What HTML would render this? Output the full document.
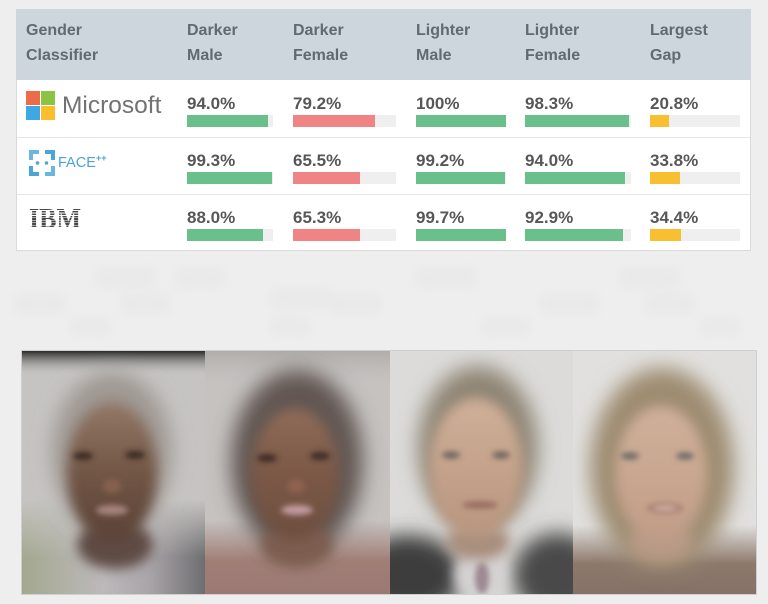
<!DOCTYPE html>
<html><head><meta charset="utf-8">
<style>
*{margin:0;padding:0;box-sizing:border-box}
html,body{width:768px;height:604px;overflow:hidden;background:#eeeeee;font-family:"Liberation Sans",Arial,sans-serif;position:relative}
.abs{position:absolute}
#table{left:16px;top:9px;width:735px;height:242px;background:#fff;border:1px solid #dadada}
#hdr{left:16px;top:9px;width:735px;height:71px;background:#cdd6dc}
.h{position:absolute;font-weight:700;font-size:16px;line-height:24.5px;color:#606a72;top:19px;white-space:nowrap}
.v{position:absolute;font-weight:700;font-size:17px;line-height:20px;color:#575757;white-space:nowrap}
.t{position:absolute;height:12px;background:#efefef}
.f{height:12px}
.g{background:#6ac08b}.r{background:#f08383}.y{background:#f8c030}
.sep{position:absolute;left:17px;width:733px;height:1px;background:#e6e6e6}
</style></head><body>

<div id="table" class="abs"></div>
<div id="hdr" class="abs"></div>
<div class="sep" style="top:137px"></div>
<div class="sep" style="top:194px"></div>

<div class="h" style="left:26px">Gender<br>Classifier</div>
<div class="h" style="left:187px">Darker<br>Male</div>
<div class="h" style="left:293px">Darker<br>Female</div>
<div class="h" style="left:416px">Lighter<br>Male</div>
<div class="h" style="left:525px">Lighter<br>Female</div>
<div class="h" style="left:650px">Largest<br>Gap</div>

<!-- Microsoft logo -->
<div class="abs" style="left:26px;top:91px;width:14px;height:14px;background:#ea6c4b"></div>
<div class="abs" style="left:41px;top:91px;width:14px;height:14px;background:#8bc343"></div>
<div class="abs" style="left:26px;top:106px;width:14px;height:14px;background:#3ea8e6"></div>
<div class="abs" style="left:41px;top:106px;width:14px;height:14px;background:#fbbf2e"></div>
<div class="abs" style="left:62px;top:94px;font-size:24.5px;line-height:24px;color:#727272;white-space:nowrap">Microsoft</div>

<!-- Face++ logo -->
<svg class="abs" style="left:29px;top:150px" width="26" height="26" viewBox="0 0 26 26">
<rect x="0" y="0" width="10" height="10" fill="#6ab6de"/>
<rect x="16" y="0" width="10" height="10" fill="#4aa6d6"/>
<rect x="0" y="16" width="10" height="10" fill="#4aa6d6"/>
<rect x="16" y="16" width="10" height="10" fill="#6ab6de"/>
<rect x="4" y="4" width="18" height="18" fill="#fff"/>
<circle cx="8.5" cy="13" r="1.8" fill="#4aa6d6"/>
<circle cx="17.5" cy="13" r="1.8" fill="#4aa6d6"/>
</svg>
<div class="abs" style="left:58px;top:155.5px;font-size:14.5px;line-height:15px;color:#4aa3d4;white-space:nowrap">FACE</div>
<div class="abs" style="left:96px;top:154px;font-size:9px;line-height:9px;color:#4aa3d4;font-weight:bold">++</div>

<!-- IBM logo -->
<div class="abs" style="left:29px;top:206px;font-family:'Liberation Serif',serif;font-weight:bold;font-size:28px;line-height:28px;transform:scaleX(0.93);transform-origin:left top;color:transparent;background:repeating-linear-gradient(to bottom,#484848 0,#484848 1.6px,#ffffff 1.6px,#ffffff 2.45px);-webkit-background-clip:text;background-clip:text;white-space:nowrap">IBM</div>

<!-- Row 1 -->
<div class="v" style="left:187px;top:94px">94.0%</div>
<div class="v" style="left:293px;top:94px">79.2%</div>
<div class="v" style="left:416px;top:94px">100%</div>
<div class="v" style="left:525px;top:94px">98.3%</div>
<div class="v" style="left:650px;top:94px">20.8%</div>
<div class="t" style="left:187px;top:115px;width:86px"><div class="f g" style="width:94%"></div></div>
<div class="t" style="left:293px;top:115px;width:103px"><div class="f r" style="width:79.2%"></div></div>
<div class="t" style="left:416px;top:115px;width:90px"><div class="f g" style="width:100%"></div></div>
<div class="t" style="left:525px;top:115px;width:106px"><div class="f g" style="width:98.3%"></div></div>
<div class="t" style="left:650px;top:115px;width:90px"><div class="f y" style="width:20.8%"></div></div>

<!-- Row 2 -->
<div class="v" style="left:187px;top:151px">99.3%</div>
<div class="v" style="left:293px;top:151px">65.5%</div>
<div class="v" style="left:416px;top:151px">99.2%</div>
<div class="v" style="left:525px;top:151px">94.0%</div>
<div class="v" style="left:650px;top:151px">33.8%</div>
<div class="t" style="left:187px;top:172px;width:86px"><div class="f g" style="width:99.3%"></div></div>
<div class="t" style="left:293px;top:172px;width:103px"><div class="f r" style="width:65.5%"></div></div>
<div class="t" style="left:416px;top:172px;width:90px"><div class="f g" style="width:99.2%"></div></div>
<div class="t" style="left:525px;top:172px;width:106px"><div class="f g" style="width:94%"></div></div>
<div class="t" style="left:650px;top:172px;width:90px"><div class="f y" style="width:33.8%"></div></div>

<!-- Row 3 -->
<div class="v" style="left:187px;top:208px">88.0%</div>
<div class="v" style="left:293px;top:208px">65.3%</div>
<div class="v" style="left:416px;top:208px">99.7%</div>
<div class="v" style="left:525px;top:208px">92.9%</div>
<div class="v" style="left:650px;top:208px">34.4%</div>
<div class="t" style="left:187px;top:229px;width:86px"><div class="f g" style="width:88%"></div></div>
<div class="t" style="left:293px;top:229px;width:103px"><div class="f r" style="width:65.3%"></div></div>
<div class="t" style="left:416px;top:229px;width:90px"><div class="f g" style="width:99.7%"></div></div>
<div class="t" style="left:525px;top:229px;width:106px"><div class="f g" style="width:92.9%"></div></div>
<div class="t" style="left:650px;top:229px;width:90px"><div class="f y" style="width:34.4%"></div></div>

<!-- faint background blocks -->
<svg class="abs" style="left:0;top:256px" width="768" height="92" viewBox="0 0 768 92">
<defs><filter id="bb" x="-30%" y="-60%" width="160%" height="220%"><feGaussianBlur stdDeviation="5"/></filter></defs>
<g filter="url(#bb)" fill="#e9e9e9">
<rect x="95" y="12" width="60" height="20"/><rect x="175" y="12" width="50" height="20"/>
<rect x="270" y="32" width="60" height="20"/><rect x="415" y="12" width="60" height="20"/>
<rect x="15" y="38" width="50" height="20"/><rect x="120" y="38" width="50" height="20"/>
<rect x="330" y="38" width="50" height="20"/><rect x="540" y="38" width="60" height="20"/>
<rect x="645" y="38" width="50" height="20"/><rect x="620" y="12" width="60" height="20"/>
<rect x="70" y="62" width="40" height="18"/><rect x="270" y="62" width="40" height="18"/>
<rect x="480" y="62" width="50" height="18"/><rect x="700" y="62" width="40" height="18"/>
</g>
</svg>

<!-- Photos -->
<svg class="abs" style="left:21px;top:350px" width="736" height="245" viewBox="0 0 736 245">
<defs>
<filter id="b10" x="-50%" y="-50%" width="200%" height="200%"><feGaussianBlur stdDeviation="10"/></filter>
<filter id="b6" x="-50%" y="-50%" width="200%" height="200%"><feGaussianBlur stdDeviation="6"/></filter>
<filter id="b3" x="-80%" y="-80%" width="260%" height="260%"><feGaussianBlur stdDeviation="3"/></filter>
<clipPath id="c1"><rect width="184" height="245"/></clipPath>
<clipPath id="c2"><rect width="185" height="245"/></clipPath>
<clipPath id="c3"><rect width="183" height="245"/></clipPath>
<clipPath id="c4"><rect width="184" height="245"/></clipPath>
<linearGradient id="fadeIn" x1="0" y1="0" x2="0" y2="1"><stop offset="0" stop-color="#fff" stop-opacity="0"/><stop offset=".6" stop-color="#fff" stop-opacity="1"/><stop offset="1" stop-color="#fff" stop-opacity="1"/></linearGradient>
<mask id="mFade" maskContentUnits="objectBoundingBox"><rect width="1" height="1" fill="url(#fadeIn)"/></mask>
<linearGradient id="top1" x1="0" y1="0" x2="0" y2="1"><stop offset="0" stop-color="#1e1e1e"/><stop offset="1" stop-color="#c9c7c5" stop-opacity="0"/></linearGradient>
<linearGradient id="top2" x1="0" y1="0" x2="0" y2="1"><stop offset="0" stop-color="#aeaba9"/><stop offset="1" stop-color="#c5c2c0" stop-opacity="0"/></linearGradient>
<linearGradient id="bot1" x1="0" y1="0" x2="1" y2="0"><stop offset="0" stop-color="#a3a88f"/><stop offset=".45" stop-color="#bdb9bb"/><stop offset=".7" stop-color="#a9a4a8"/><stop offset="1" stop-color="#6e6e6f"/></linearGradient>
<linearGradient id="bot2" x1="0" y1="0" x2="0" y2="1"><stop offset="0" stop-color="#a07e76" stop-opacity="0"/><stop offset=".55" stop-color="#a07e76"/><stop offset="1" stop-color="#9c7a74"/></linearGradient>
<linearGradient id="bot4" x1="0" y1="0" x2="0" y2="1"><stop offset="0" stop-color="#8d796b" stop-opacity="0"/><stop offset=".55" stop-color="#8d796b"/><stop offset="1" stop-color="#857166"/></linearGradient>
<linearGradient id="s1" x1="0" y1="0" x2="0" y2="1"><stop offset="0" stop-color="#937868"/><stop offset=".5" stop-color="#725646"/><stop offset="1" stop-color="#5a4236"/></linearGradient>
<linearGradient id="s2" x1="0" y1="0" x2="0" y2="1"><stop offset="0" stop-color="#8f6c59"/><stop offset=".5" stop-color="#7b5846"/><stop offset="1" stop-color="#6e4e40"/></linearGradient>
<linearGradient id="s3" x1="0" y1="0" x2="0" y2="1"><stop offset="0" stop-color="#d0b099"/><stop offset=".5" stop-color="#c4a28b"/><stop offset="1" stop-color="#b8967f"/></linearGradient>
<linearGradient id="s4" x1="0" y1="0" x2="0" y2="1"><stop offset="0" stop-color="#d0b09a"/><stop offset=".5" stop-color="#c9a790"/><stop offset="1" stop-color="#bf9c86"/></linearGradient>
</defs>

<!-- Panel 1: darker male -->
<g clip-path="url(#c1)">
<rect width="184" height="245" fill="#c6c4c2"/>
<rect x="0" y="150" width="184" height="95" fill="url(#bot1)" mask="url(#mFade)"/>
<rect width="184" height="26" fill="url(#top1)"/>
<ellipse cx="91" cy="102" rx="60" ry="80" fill="#9f9893" filter="url(#b10)"/>
<ellipse cx="94" cy="195" rx="38" ry="24" fill="#5e4c45" filter="url(#b6)"/>
<ellipse cx="91" cy="122" rx="45" ry="70" fill="url(#s1)" filter="url(#b6)"/>
<ellipse cx="62" cy="106" rx="10" ry="4" fill="#3a2a24" filter="url(#b3)"/>
<ellipse cx="114" cy="105" rx="10" ry="4" fill="#3a2a24" filter="url(#b3)"/>
<ellipse cx="91" cy="136" rx="9" ry="7" fill="#86604f" filter="url(#b3)"/>
<ellipse cx="91" cy="160" rx="16" ry="5" fill="#a8847f" filter="url(#b3)"/>
</g>

<!-- Panel 2: darker female -->
<g transform="translate(184,0)"><g clip-path="url(#c2)">
<rect width="185" height="245" fill="#c5c2c0"/>
<rect x="0" y="0" width="185" height="40" fill="url(#top2)"/>
<rect x="0" y="170" width="185" height="75" fill="url(#bot2)"/>
<ellipse cx="92" cy="112" rx="66" ry="92" fill="#625753" filter="url(#b10)"/>
<ellipse cx="92" cy="195" rx="36" ry="22" fill="#7d5d50" filter="url(#b6)"/>
<ellipse cx="90" cy="124" rx="44" ry="66" fill="url(#s2)" filter="url(#b6)"/>
<ellipse cx="62" cy="108" rx="10" ry="4" fill="#3e2c26" filter="url(#b3)"/>
<ellipse cx="115" cy="106" rx="10" ry="4" fill="#3e2c26" filter="url(#b3)"/>
<ellipse cx="91" cy="136" rx="9" ry="7" fill="#8f6250" filter="url(#b3)"/>
<ellipse cx="92" cy="160" rx="16" ry="5" fill="#c29ba0" filter="url(#b3)"/>
</g></g>

<!-- Panel 3: lighter male -->
<g transform="translate(369,0)"><g clip-path="url(#c3)">
<rect width="183" height="245" fill="#dcdbd9"/>
<ellipse cx="88" cy="98" rx="60" ry="82" fill="#8f8575" filter="url(#b10)"/>
<ellipse cx="18" cy="225" rx="55" ry="40" fill="#3e3e3e" filter="url(#b10)"/>
<ellipse cx="168" cy="225" rx="45" ry="42" fill="#484848" filter="url(#b10)"/>
<ellipse cx="90" cy="225" rx="26" ry="25" fill="#d4d1d1" filter="url(#b6)"/>
<ellipse cx="92" cy="228" rx="7" ry="16" fill="#9d8993" filter="url(#b3)"/>
<ellipse cx="88" cy="192" rx="32" ry="18" fill="#a88e7e" filter="url(#b6)"/>
<ellipse cx="86" cy="118" rx="47" ry="70" fill="url(#s3)" filter="url(#b6)"/>
<ellipse cx="61" cy="105" rx="9" ry="3.5" fill="#6c625c" filter="url(#b3)"/>
<ellipse cx="111" cy="105" rx="9" ry="3.5" fill="#6c625c" filter="url(#b3)"/>
<ellipse cx="90" cy="155" rx="18" ry="3.5" fill="#956b5d" filter="url(#b3)"/>
</g></g>

<!-- Panel 4: lighter female -->
<g transform="translate(552,0)"><g clip-path="url(#c4)">
<rect width="184" height="245" fill="#e1e0de"/>
<rect x="0" y="175" width="184" height="70" fill="url(#bot4)"/>
<ellipse cx="89" cy="118" rx="72" ry="100" fill="#9e8c71" filter="url(#b10)"/>
<ellipse cx="88" cy="192" rx="32" ry="20" fill="#b89a86" filter="url(#b6)"/>
<ellipse cx="88" cy="124" rx="46" ry="68" fill="url(#s4)" filter="url(#b6)"/>
<ellipse cx="57" cy="106" rx="9" ry="3.5" fill="#6b6868" filter="url(#b3)"/>
<ellipse cx="112" cy="106" rx="9" ry="3.5" fill="#6b6868" filter="url(#b3)"/>
<ellipse cx="92" cy="158" rx="18" ry="5" fill="#a67c70" filter="url(#b3)"/>
<ellipse cx="92" cy="158" rx="12" ry="2.5" fill="#d6bcaf" filter="url(#b3)"/>
</g></g>
<rect x="0.5" y="0.5" width="735" height="244" fill="none" stroke="#cfcfcf" stroke-width="1"/>
</svg>

</body></html>
